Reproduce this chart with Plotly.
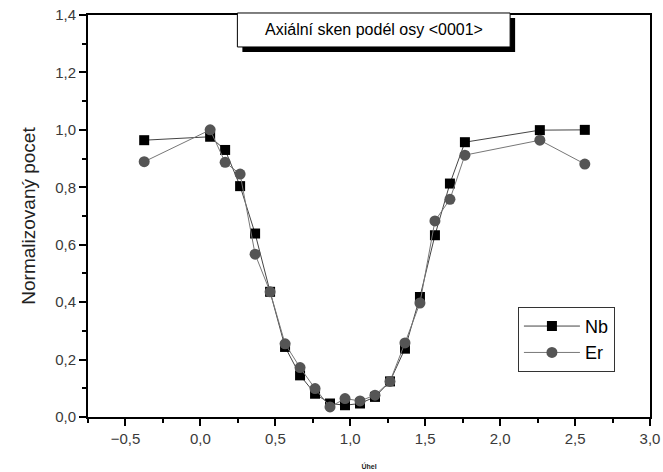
import plotly.graph_objects as go

# Scan angle positions (degrees) and normalized yields
uhel = [-0.375, 0.065, 0.165, 0.265, 0.365, 0.465, 0.565, 0.665, 0.765, 0.865,
        0.965, 1.065, 1.165, 1.265, 1.365, 1.465, 1.565, 1.665, 1.765, 2.265, 2.565]
nb = [0.964, 0.976, 0.930, 0.804, 0.639, 0.436, 0.244, 0.145, 0.081, 0.047,
      0.041, 0.047, 0.070, 0.124, 0.238, 0.418, 0.633, 0.813, 0.957, 0.999, 1.000]
er = [0.889, 1.000, 0.887, 0.846, 0.567, 0.436, 0.255, 0.172, 0.099, 0.035,
      0.064, 0.056, 0.076, 0.124, 0.258, 0.397, 0.683, 0.758, 0.912, 0.964, 0.881]

title_text = "Axiální sken podél osy &lt;0001&gt;"
font = "Liberation Sans, Arial, sans-serif"

fig = go.Figure()
fig.add_trace(go.Scatter(
    x=uhel, y=nb, name="Nb", mode="lines+markers",
    line=dict(color="#444444", width=1),
    marker=dict(symbol="square", size=10, color="#000000"),
))
fig.add_trace(go.Scatter(
    x=uhel, y=er, name="Er", mode="lines+markers",
    line=dict(color="#777777", width=1),
    marker=dict(symbol="circle", size=11, color="#555555"),
))

axis_common = dict(
    showline=True, linecolor="black", linewidth=2, mirror=True, automargin=False,
    showgrid=False, zeroline=False, ticks="outside", ticklen=7, tickwidth=1.5,
    tickcolor="black", tickfont=dict(family=font, size=15, color="#3a3a3a"),
)

fig.update_xaxes(
    range=[-0.75, 3.0], dtick=0.5, tick0=0, tickformat=".1f",
    minor=dict(dtick=0.25, tick0=0, ticks="outside", ticklen=4, tickcolor="black"),
    title=dict(text="<b>Úhel</b>", font=dict(family=font, size=7, color="#222222"), standoff=18),
    **axis_common,
)
fig.update_yaxes(
    range=[0, 1.4], dtick=0.2, tick0=0, tickformat=".1f",
    minor=dict(dtick=0.1, tick0=0, ticks="outside", ticklen=4, tickcolor="black"),
    title=dict(text="Normalizovaný pocet", font=dict(family=font, size=19, color="#222222"), standoff=14),
    **axis_common,
)

# Title box with drop shadow
fig.add_shape(type="rect", xref="paper", yref="paper", layer="above",
              x0=0.2747, x1=0.7600, y0=0.908, y1=0.9925,
              fillcolor="black", line=dict(width=0))
fig.add_shape(type="rect", xref="paper", yref="paper", layer="above",
              x0=0.2658, x1=0.7511, y0=0.9205, y1=1.005,
              fillcolor="white", line=dict(color="black", width=1))
fig.add_annotation(xref="paper", yref="paper", x=0.5085, y=0.9627,
                   xanchor="center", yanchor="middle",
                   text=title_text, showarrow=False,
                   font=dict(family=font, size=16, color="black"))

fig.update_layout(
    width=663, height=472,
    margin=dict(l=87.5, r=13, t=15, b=55.3, autoexpand=False),
    plot_bgcolor="white", paper_bgcolor="white",
    separators=", ",
    showlegend=True,
    legend=dict(x=0.765, y=0.274, xanchor="left", yanchor="top",
                bordercolor="#333333", borderwidth=1, bgcolor="white",
                font=dict(family=font, size=18, color="black"),
                itemwidth=56, tracegroupgap=2),
)

fig.write_html("out.html")
